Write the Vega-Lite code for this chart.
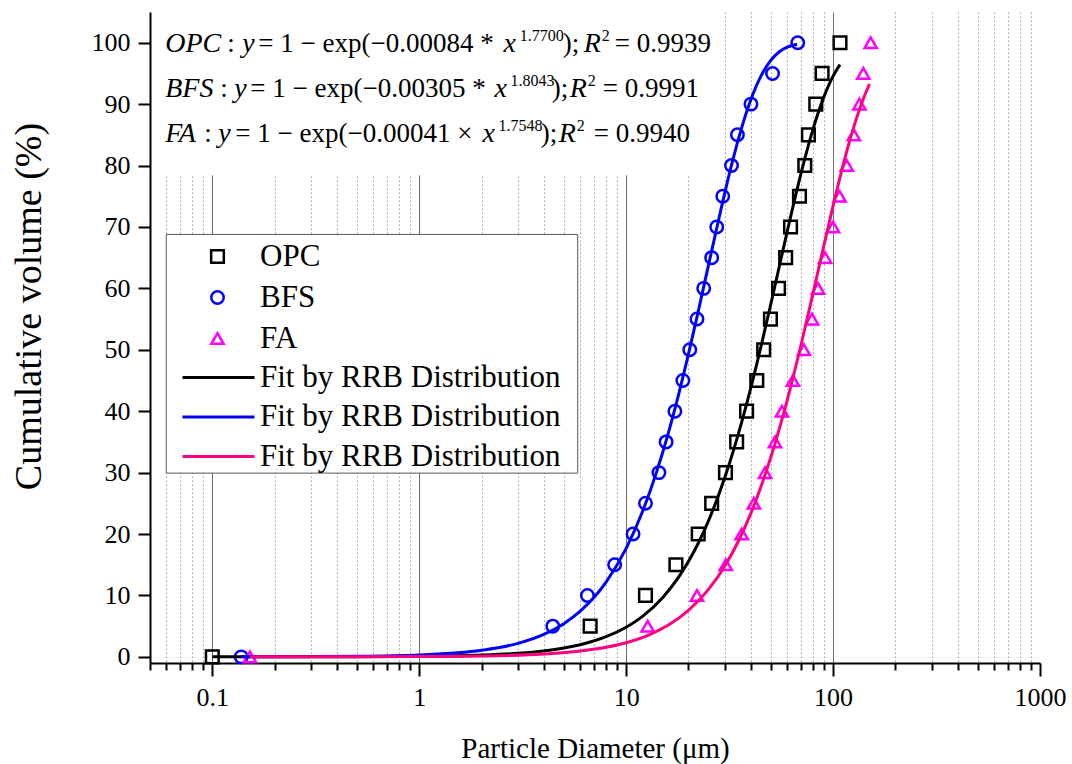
{
  "$schema": "https://vega.github.io/schema/vega-lite/v6.json",
  "width": 890,
  "height": 651,
  "autosize": "none",
  "padding": {"left": 150, "top": 12, "right": 32, "bottom": 101},
  "background": "white",
  "config": {
    "font": "Liberation Serif",
    "view": {"stroke": null},
    "style": {
      "eq": {"font": "Liberation Serif", "fontSize": 27, "align": "left", "baseline": "alphabetic", "color": "black"},
      "eqi": {"font": "Liberation Serif", "fontSize": 28, "fontStyle": "italic", "align": "left", "baseline": "alphabetic", "color": "black"},
      "sup": {"font": "Liberation Serif", "fontSize": 16, "align": "left", "baseline": "alphabetic", "color": "black"}
    }
  },
  "datasets": {
    "one": [{}],
    "pts": [
      {"series": "OPC", "d": 0.1, "v": 0}, {"series": "OPC", "d": 6.7, "v": 5}, {"series": "OPC", "d": 12.4, "v": 10},
      {"series": "OPC", "d": 17.4, "v": 15}, {"series": "OPC", "d": 22.3, "v": 20}, {"series": "OPC", "d": 25.9, "v": 25},
      {"series": "OPC", "d": 30.2, "v": 30}, {"series": "OPC", "d": 34.2, "v": 35}, {"series": "OPC", "d": 38.2, "v": 40},
      {"series": "OPC", "d": 42.8, "v": 45}, {"series": "OPC", "d": 46.2, "v": 50}, {"series": "OPC", "d": 49.8, "v": 55},
      {"series": "OPC", "d": 54.5, "v": 60}, {"series": "OPC", "d": 59, "v": 65}, {"series": "OPC", "d": 62.3, "v": 70},
      {"series": "OPC", "d": 68.8, "v": 75}, {"series": "OPC", "d": 73, "v": 80}, {"series": "OPC", "d": 76, "v": 85},
      {"series": "OPC", "d": 82.5, "v": 90}, {"series": "OPC", "d": 88.5, "v": 95}, {"series": "OPC", "d": 108, "v": 100},
      {"series": "BFS", "d": 0.138, "v": 0}, {"series": "BFS", "d": 4.42, "v": 5}, {"series": "BFS", "d": 6.5, "v": 10},
      {"series": "BFS", "d": 8.8, "v": 15}, {"series": "BFS", "d": 10.8, "v": 20}, {"series": "BFS", "d": 12.4, "v": 25},
      {"series": "BFS", "d": 14.4, "v": 30}, {"series": "BFS", "d": 15.6, "v": 35}, {"series": "BFS", "d": 17.2, "v": 40},
      {"series": "BFS", "d": 18.8, "v": 45}, {"series": "BFS", "d": 20.3, "v": 50}, {"series": "BFS", "d": 22.0, "v": 55},
      {"series": "BFS", "d": 23.7, "v": 60}, {"series": "BFS", "d": 25.9, "v": 65}, {"series": "BFS", "d": 27.4, "v": 70},
      {"series": "BFS", "d": 29.3, "v": 75}, {"series": "BFS", "d": 32.3, "v": 80}, {"series": "BFS", "d": 34.5, "v": 85},
      {"series": "BFS", "d": 40.1, "v": 90}, {"series": "BFS", "d": 51, "v": 95}, {"series": "BFS", "d": 67.5, "v": 100},
      {"series": "FA", "d": 0.152, "v": 0}, {"series": "FA", "d": 12.7, "v": 5}, {"series": "FA", "d": 22.0, "v": 10},
      {"series": "FA", "d": 30.3, "v": 15}, {"series": "FA", "d": 36.2, "v": 20}, {"series": "FA", "d": 41.4, "v": 25},
      {"series": "FA", "d": 46.9, "v": 30}, {"series": "FA", "d": 52.4, "v": 35}, {"series": "FA", "d": 56.6, "v": 40},
      {"series": "FA", "d": 64.0, "v": 45}, {"series": "FA", "d": 72.3, "v": 50}, {"series": "FA", "d": 79.1, "v": 55},
      {"series": "FA", "d": 84.6, "v": 60}, {"series": "FA", "d": 91.5, "v": 65}, {"series": "FA", "d": 100, "v": 70},
      {"series": "FA", "d": 107.5, "v": 75}, {"series": "FA", "d": 116.5, "v": 80}, {"series": "FA", "d": 126, "v": 85},
      {"series": "FA", "d": 134, "v": 90}, {"series": "FA", "d": 140, "v": 95}, {"series": "FA", "d": 152, "v": 100}
    ],
    "fits": [
      {"fit": "OPC fit", "d": 0.1, "v": 0.0014}, {"fit": "OPC fit", "d": 0.2, "v": 0.0049}, {"fit": "OPC fit", "d": 0.5, "v": 0.025},
      {"fit": "OPC fit", "d": 1, "v": 0.084}, {"fit": "OPC fit", "d": 2, "v": 0.286}, {"fit": "OPC fit", "d": 3, "v": 0.585},
      {"fit": "OPC fit", "d": 4, "v": 0.972}, {"fit": "OPC fit", "d": 5, "v": 1.44}, {"fit": "OPC fit", "d": 6, "v": 1.98},
      {"fit": "OPC fit", "d": 8, "v": 3.28}, {"fit": "OPC fit", "d": 10, "v": 4.83}, {"fit": "OPC fit", "d": 12, "v": 6.60},
      {"fit": "OPC fit", "d": 15, "v": 9.64}, {"fit": "OPC fit", "d": 18, "v": 13.07}, {"fit": "OPC fit", "d": 20, "v": 15.52},
      {"fit": "OPC fit", "d": 25, "v": 22.15}, {"fit": "OPC fit", "d": 30, "v": 29.23}, {"fit": "OPC fit", "d": 35, "v": 36.50},
      {"fit": "OPC fit", "d": 40, "v": 43.74}, {"fit": "OPC fit", "d": 45, "v": 50.77}, {"fit": "OPC fit", "d": 50, "v": 57.41},
      {"fit": "OPC fit", "d": 55, "v": 63.60}, {"fit": "OPC fit", "d": 60, "v": 69.23}, {"fit": "OPC fit", "d": 70, "v": 78.73},
      {"fit": "OPC fit", "d": 80, "v": 85.93}, {"fit": "OPC fit", "d": 90, "v": 91.06}, {"fit": "OPC fit", "d": 100, "v": 94.56},
      {"fit": "OPC fit", "d": 108, "v": 96.44},
      {"fit": "BFS fit", "d": 0.138, "v": 0.0086}, {"fit": "BFS fit", "d": 0.2, "v": 0.0167}, {"fit": "BFS fit", "d": 0.5, "v": 0.087},
      {"fit": "BFS fit", "d": 1, "v": 0.305}, {"fit": "BFS fit", "d": 2, "v": 1.06}, {"fit": "BFS fit", "d": 3, "v": 2.19},
      {"fit": "BFS fit", "d": 4, "v": 3.65}, {"fit": "BFS fit", "d": 5, "v": 5.41}, {"fit": "BFS fit", "d": 6, "v": 7.44},
      {"fit": "BFS fit", "d": 8, "v": 12.18}, {"fit": "BFS fit", "d": 10, "v": 17.67}, {"fit": "BFS fit", "d": 12, "v": 23.66},
      {"fit": "BFS fit", "d": 14, "v": 30.00}, {"fit": "BFS fit", "d": 16, "v": 36.48}, {"fit": "BFS fit", "d": 18, "v": 42.95},
      {"fit": "BFS fit", "d": 20, "v": 49.28}, {"fit": "BFS fit", "d": 22, "v": 55.36}, {"fit": "BFS fit", "d": 25, "v": 63.79},
      {"fit": "BFS fit", "d": 28, "v": 71.22}, {"fit": "BFS fit", "d": 32, "v": 79.52}, {"fit": "BFS fit", "d": 36, "v": 85.94},
      {"fit": "BFS fit", "d": 40, "v": 90.67}, {"fit": "BFS fit", "d": 45, "v": 94.68}, {"fit": "BFS fit", "d": 50, "v": 97.12},
      {"fit": "BFS fit", "d": 55, "v": 98.52}, {"fit": "BFS fit", "d": 60, "v": 99.28}, {"fit": "BFS fit", "d": 67, "v": 99.76},
      {"fit": "FA fit", "d": 0.152, "v": 0.0015}, {"fit": "FA fit", "d": 0.5, "v": 0.012}, {"fit": "FA fit", "d": 1, "v": 0.041},
      {"fit": "FA fit", "d": 2, "v": 0.138}, {"fit": "FA fit", "d": 4, "v": 0.466}, {"fit": "FA fit", "d": 6, "v": 0.947},
      {"fit": "FA fit", "d": 8, "v": 1.56}, {"fit": "FA fit", "d": 10, "v": 2.30}, {"fit": "FA fit", "d": 13, "v": 3.63},
      {"fit": "FA fit", "d": 16, "v": 5.18}, {"fit": "FA fit", "d": 20, "v": 7.57}, {"fit": "FA fit", "d": 25, "v": 10.99},
      {"fit": "FA fit", "d": 30, "v": 14.80}, {"fit": "FA fit", "d": 35, "v": 18.95}, {"fit": "FA fit", "d": 40, "v": 23.33},
      {"fit": "FA fit", "d": 45, "v": 27.86}, {"fit": "FA fit", "d": 50, "v": 32.49}, {"fit": "FA fit", "d": 60, "v": 41.77},
      {"fit": "FA fit", "d": 70, "v": 50.78}, {"fit": "FA fit", "d": 80, "v": 59.19}, {"fit": "FA fit", "d": 90, "v": 66.78},
      {"fit": "FA fit", "d": 100, "v": 73.43}, {"fit": "FA fit", "d": 110, "v": 79.14}, {"fit": "FA fit", "d": 120, "v": 83.88},
      {"fit": "FA fit", "d": 130, "v": 87.76}, {"fit": "FA fit", "d": 140, "v": 90.85}, {"fit": "FA fit", "d": 150, "v": 93.28}
    ]
  },
  "layer": [
    {
      "data": {"name": "one"},
      "mark": {"type": "rect", "fill": "white"},
      "encoding": {"x": {"datum": 0.052}, "x2": {"datum": 26.84}, "y": {"datum": 78.4}, "y2": {"datum": 105}}
    },
    {
      "data": {"name": "one"},
      "mark": {"type": "rect", "fill": "white", "stroke": "#5a5a5a", "strokeWidth": 1},
      "encoding": {"x": {"datum": 0.0599}, "x2": {"datum": 5.834}, "y": {"datum": 29.92}, "y2": {"datum": 68.78}}
    },
    {
      "data": {"name": "pts"},
      "mark": {"type": "point", "filled": false, "strokeWidth": 2.5, "opacity": 1},
      "encoding": {
        "x": {
          "field": "d", "type": "quantitative",
          "scale": {"type": "log", "domain": [0.05, 1000], "nice": false},
          "axis": {
            "title": "Particle Diameter (μm)",
            "values": [0.05, 0.06, 0.07, 0.08, 0.09, 0.1, 0.2, 0.3, 0.4, 0.5, 0.6, 0.7, 0.8, 0.9, 1, 2, 3, 4, 5, 6, 7, 8, 9, 10, 20, 30, 40, 50, 60, 70, 80, 90, 100, 200, 300, 400, 500, 600, 700, 800, 900, 1000],
            "format": "~g",
            "labelExpr": "abs(log(datum.value)/LN10 - round(log(datum.value)/LN10)) < 0.001 ? datum.label : ''",
            "labelOverlap": false, "labelFlush": false, "labelBound": false,
            "labelFont": "Liberation Serif", "labelFontSize": 26, "labelColor": "black", "labelPadding": 8,
            "tickSize": {"condition": {"test": "abs(log(datum.value)/LN10 - round(log(datum.value)/LN10)) < 0.001", "value": 13}, "value": 7},
            "tickWidth": 2, "tickColor": "black", "domainColor": "black", "domainWidth": 2,
            "grid": true,
            "gridColor": {"condition": {"test": "abs(log(datum.value)/LN10 - round(log(datum.value)/LN10)) < 0.001", "value": "#6e6e6e"}, "value": "#9a9a9a"},
            "gridDash": {"condition": {"test": "abs(log(datum.value)/LN10 - round(log(datum.value)/LN10)) < 0.001", "value": []}, "value": [1.5, 2.5]},
            "gridOpacity": {"condition": {"test": "datum.value > 999 || datum.value < 0.055", "value": 0}, "value": 1},
            "gridWidth": 1,
            "titleFont": "Liberation Serif", "titleFontSize": 29, "titleFontWeight": "normal", "titleColor": "black",
            "titleY": 94, "titleBaseline": "alphabetic"
          }
        },
        "y": {
          "field": "v", "type": "quantitative",
          "scale": {"domain": [-1, 105], "nice": false, "zero": false},
          "axis": {
            "title": "Cumulative volume (%)",
            "values": [0, 5, 10, 15, 20, 25, 30, 35, 40, 45, 50, 55, 60, 65, 70, 75, 80, 85, 90, 95, 100],
            "labelExpr": "datum.value % 10 === 0 ? datum.label : ''",
            "labelOverlap": false, "labelFlush": false,
            "labelFont": "Liberation Serif", "labelFontSize": 26, "labelColor": "black", "labelPadding": 8,
            "tickSize": {"condition": {"test": "datum.value % 10 === 0", "value": 12}, "value": 7},
            "tickWidth": 2, "tickColor": "black", "domainColor": "black", "domainWidth": 2,
            "grid": false,
            "titleFont": "Liberation Serif", "titleFontSize": 38, "titleFontWeight": "normal", "titleColor": "black",
            "titleX": -110, "titleY": 294, "titleBaseline": "alphabetic"
          }
        },
        "color": {
          "field": "series", "type": "nominal",
          "scale": {"domain": ["OPC", "BFS", "FA"], "range": ["#000000", "#0000ff", "#ff00ff"]},
          "legend": {"orient": "none", "legendX": 52, "legendY": 229, "title": null, "labelFont": "Liberation Serif", "labelFontSize": 31, "labelColor": "black", "labelLimit": 0, "symbolSize": 150, "symbolStrokeWidth": 2.5, "rowPadding": 9, "labelOffset": 27, "padding": 0}
        },
        "shape": {
          "field": "series", "type": "nominal",
          "scale": {"domain": ["OPC", "BFS", "FA"], "range": ["square", "circle", "triangle-up"]},
          "legend": {"orient": "none", "legendX": 52, "legendY": 229, "title": null, "labelFont": "Liberation Serif", "labelFontSize": 31, "labelColor": "black", "labelLimit": 0, "symbolSize": 150, "symbolStrokeWidth": 2.5, "rowPadding": 9, "labelOffset": 27, "padding": 0}
        },
        "size": {
          "field": "series", "type": "nominal",
          "scale": {"domain": ["OPC", "BFS", "FA"], "range": [160, 150, 300]},
          "legend": null
        }
      }
    },
    {
      "data": {"name": "fits"},
      "mark": {"type": "line", "strokeWidth": 3, "interpolate": "monotone"},
      "encoding": {
        "x": {"field": "d", "type": "quantitative"},
        "y": {"field": "v", "type": "quantitative"},
        "stroke": {
          "field": "fit", "type": "nominal",
          "scale": {"domain": ["OPC fit", "BFS fit", "FA fit"], "range": ["#000000", "#0000ff", "#ff0080"]},
          "legend": {"orient": "none", "legendX": 52, "legendY": 349, "title": null, "labelExpr": "'Fit by RRB Distribution'", "labelFont": "Liberation Serif", "labelFontSize": 31, "labelColor": "black", "labelLimit": 0, "symbolType": "M-2.4,0H2.4", "symbolSize": 900, "symbolStrokeWidth": 3, "rowPadding": 7.5, "labelOffset": 25, "padding": 0}
        }
      }
    },
    {"data": {"name": "one"}, "mark": {"type": "text", "style": "eqi"}, "encoding": {"x": {"datum": 0.05924}, "y": {"datum": 98.5}, "text": {"value": "OPC"}}},
    {"data": {"name": "one"}, "mark": {"type": "text", "style": "eq"}, "encoding": {"x": {"datum": 0.1182}, "y": {"datum": 98.5}, "text": {"value": ":"}}},
    {"data": {"name": "one"}, "mark": {"type": "text", "style": "eqi"}, "encoding": {"x": {"datum": 0.1397}, "y": {"datum": 98.5}, "text": {"value": "y"}}},
    {"data": {"name": "one"}, "mark": {"type": "text", "style": "eq"}, "encoding": {"x": {"datum": 0.1669}, "y": {"datum": 98.5}, "text": {"value": "= 1 − exp(−0.00084 *"}}},
    {"data": {"name": "one"}, "mark": {"type": "text", "style": "eqi"}, "encoding": {"x": {"datum": 2.557}, "y": {"datum": 98.5}, "text": {"value": "x"}}},
    {"data": {"name": "one"}, "mark": {"type": "text", "style": "sup"}, "encoding": {"x": {"datum": 3.058}, "y": {"datum": 100.3}, "text": {"value": "1.7700"}}},
    {"data": {"name": "one"}, "mark": {"type": "text", "style": "eq"}, "encoding": {"x": {"datum": 4.937}, "y": {"datum": 98.5}, "text": {"value": ");"}}},
    {"data": {"name": "one"}, "mark": {"type": "text", "style": "eqi"}, "encoding": {"x": {"datum": 6.235}, "y": {"datum": 98.5}, "text": {"value": "R"}}},
    {"data": {"name": "one"}, "mark": {"type": "text", "style": "sup"}, "encoding": {"x": {"datum": 7.621}, "y": {"datum": 100.3}, "text": {"value": "2"}}},
    {"data": {"name": "one"}, "mark": {"type": "text", "style": "eq"}, "encoding": {"x": {"datum": 8.810}, "y": {"datum": 98.5}, "text": {"value": "= 0.9939"}}},
    {"data": {"name": "one"}, "mark": {"type": "text", "style": "eqi"}, "encoding": {"x": {"datum": 0.05924}, "y": {"datum": 91.2}, "text": {"value": "BFS"}}},
    {"data": {"name": "one"}, "mark": {"type": "text", "style": "eq"}, "encoding": {"x": {"datum": 0.1093}, "y": {"datum": 91.2}, "text": {"value": ":"}}},
    {"data": {"name": "one"}, "mark": {"type": "text", "style": "eqi"}, "encoding": {"x": {"datum": 0.1278}, "y": {"datum": 91.2}, "text": {"value": "y"}}},
    {"data": {"name": "one"}, "mark": {"type": "text", "style": "eq"}, "encoding": {"x": {"datum": 0.1527}, "y": {"datum": 91.2}, "text": {"value": "= 1 − exp(−0.00305 *"}}},
    {"data": {"name": "one"}, "mark": {"type": "text", "style": "eqi"}, "encoding": {"x": {"datum": 2.313}, "y": {"datum": 91.2}, "text": {"value": "x"}}},
    {"data": {"name": "one"}, "mark": {"type": "text", "style": "sup"}, "encoding": {"x": {"datum": 2.765}, "y": {"datum": 93.0}, "text": {"value": "1.8043"}}},
    {"data": {"name": "one"}, "mark": {"type": "text", "style": "eq"}, "encoding": {"x": {"datum": 4.366}, "y": {"datum": 91.2}, "text": {"value": ");"}}},
    {"data": {"name": "one"}, "mark": {"type": "text", "style": "eqi"}, "encoding": {"x": {"datum": 5.335}, "y": {"datum": 91.2}, "text": {"value": "R"}}},
    {"data": {"name": "one"}, "mark": {"type": "text", "style": "sup"}, "encoding": {"x": {"datum": 6.520}, "y": {"datum": 93.0}, "text": {"value": "2"}}},
    {"data": {"name": "one"}, "mark": {"type": "text", "style": "eq"}, "encoding": {"x": {"datum": 7.705}, "y": {"datum": 91.2}, "text": {"value": "= 0.9991"}}},
    {"data": {"name": "one"}, "mark": {"type": "text", "style": "eqi"}, "encoding": {"x": {"datum": 0.05924}, "y": {"datum": 83.9}, "text": {"value": "FA"}}},
    {"data": {"name": "one"}, "mark": {"type": "text", "style": "eq"}, "encoding": {"x": {"datum": 0.09148}, "y": {"datum": 83.9}, "text": {"value": ":"}}},
    {"data": {"name": "one"}, "mark": {"type": "text", "style": "eqi"}, "encoding": {"x": {"datum": 0.1069}, "y": {"datum": 83.9}, "text": {"value": "y"}}},
    {"data": {"name": "one"}, "mark": {"type": "text", "style": "eq"}, "encoding": {"x": {"datum": 0.1292}, "y": {"datum": 83.9}, "text": {"value": "= 1 − exp(−0.00041 ×"}}},
    {"data": {"name": "one"}, "mark": {"type": "text", "style": "eqi"}, "encoding": {"x": {"datum": 2.024}, "y": {"datum": 83.9}, "text": {"value": "x"}}},
    {"data": {"name": "one"}, "mark": {"type": "text", "style": "sup"}, "encoding": {"x": {"datum": 2.419}, "y": {"datum": 85.7}, "text": {"value": "1.7548"}}},
    {"data": {"name": "one"}, "mark": {"type": "text", "style": "eq"}, "encoding": {"x": {"datum": 3.863}, "y": {"datum": 83.9}, "text": {"value": ");"}}},
    {"data": {"name": "one"}, "mark": {"type": "text", "style": "eqi"}, "encoding": {"x": {"datum": 4.72}, "y": {"datum": 83.9}, "text": {"value": "R"}}},
    {"data": {"name": "one"}, "mark": {"type": "text", "style": "sup"}, "encoding": {"x": {"datum": 5.768}, "y": {"datum": 85.7}, "text": {"value": "2"}}},
    {"data": {"name": "one"}, "mark": {"type": "text", "style": "eq"}, "encoding": {"x": {"datum": 6.97}, "y": {"datum": 83.9}, "text": {"value": "= 0.9940"}}}
  ]
}
